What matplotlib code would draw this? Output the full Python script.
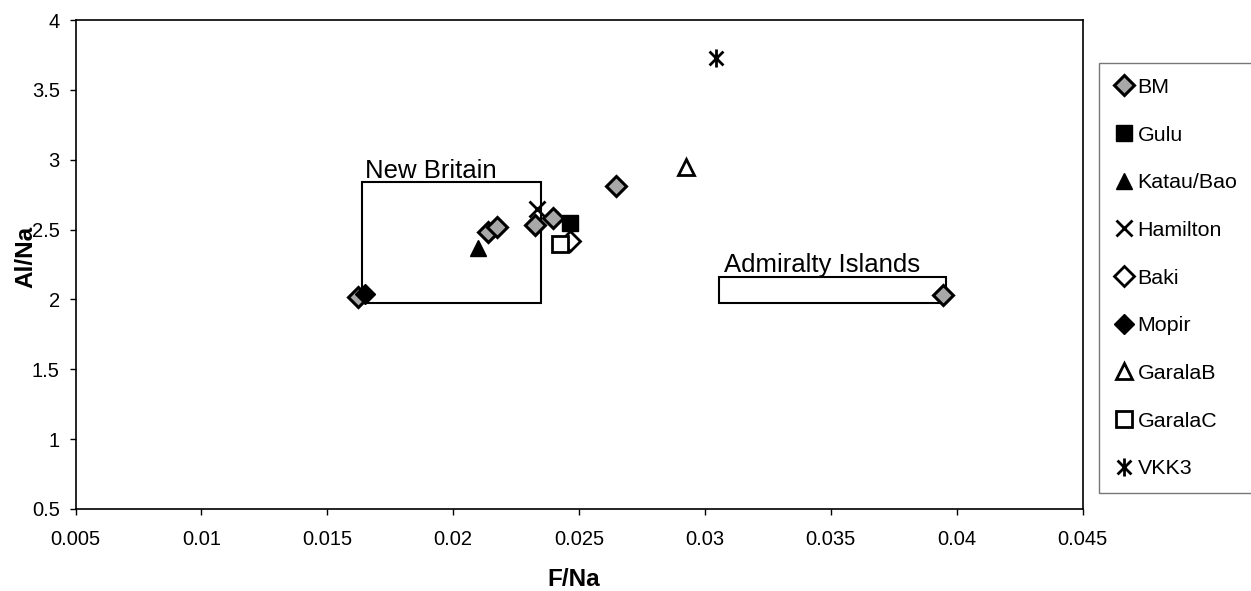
import matplotlib.pyplot as plt
from matplotlib.path import Path
from matplotlib.patches import Rectangle

plt.rcParams['font.family'] = ['Liberation Sans', 'DejaVu Sans']

# data
bm_x = [0.01622, 0.02139, 0.02173, 0.02325, 0.02398, 0.02647, 0.03946]
bm_y = [2.02, 2.48, 2.52, 2.53, 2.58, 2.81, 2.03]
gulu_x = [0.02463]
gulu_y = [2.55]
katau_x = [0.0210]
katau_y = [2.37]
hamilton_x = [0.02332]
hamilton_y = [2.65]
baki_x = [0.02464]
baki_y = [2.42]
mopir_x = [0.01649]
mopir_y = [2.04]
garalab_x = [0.02926]
garalab_y = [2.95]
garalac_x = [0.02424]
garalac_y = [2.40]
vkk3_x = [0.03045]
vkk3_y = [3.73]

# source regions (x0, x1, y0, y1)
new_britain = (0.01638, 0.02348, 1.976, 2.841)
admiralty = (0.03057, 0.03959, 1.973, 2.164)

# asterisk marker: X plus vertical stroke
star = Path([(-1, -1), (1, 1), (-1, 1), (1, -1), (0, -1.3), (0, 1.3)],
            [Path.MOVETO, Path.LINETO, Path.MOVETO, Path.LINETO, Path.MOVETO, Path.LINETO])

fig = plt.figure(figsize=(12.51, 5.91), dpi=100)
ax = fig.add_axes([75.5 / 1251, 1 - 509 / 591, 1007 / 1251, 489 / 591])

series = [
    (bm_x, bm_y, 'BM', dict(marker='D', mfc='#a8a8a8', mec='black', mew=2.2, ms=10)),
    (gulu_x, gulu_y, 'Gulu', dict(marker='s', mfc='black', mec='black', ms=11)),
    (katau_x, katau_y, 'Katau/Bao', dict(marker='^', mfc='black', mec='black', ms=12)),
    (hamilton_x, hamilton_y, 'Hamilton', dict(marker='x', mec='black', mew=2, ms=11)),
    (baki_x, baki_y, 'Baki', dict(marker='D', mfc='white', mec='black', mew=2, ms=10)),
    (mopir_x, mopir_y, 'Mopir', dict(marker='D', mfc='black', mec='black', ms=10)),
    (garalab_x, garalab_y, 'GaralaB', dict(marker='^', mfc='white', mec='black', mew=2, ms=11)),
    (garalac_x, garalac_y, 'GaralaC', dict(marker='s', mfc='white', mec='black', mew=2, ms=11)),
    (vkk3_x, vkk3_y, 'VKK3', dict(marker=star, mfc='none', mec='black', mew=2, ms=13)),
]
for xs, ys, name, st in series:
    ax.plot(xs, ys, linestyle='none', label=name, zorder=3, **st)

for (x0, x1, y0, y1) in [new_britain, admiralty]:
    ax.add_patch(Rectangle((x0, y0), x1 - x0, y1 - y0, fill=False,
                           edgecolor='black', linewidth=1.5, zorder=2))
ax.text(new_britain[0] + 0.0001, new_britain[3] + 0.03, 'New Britain', fontsize=18.5)
ax.text(admiralty[0] + 0.0002, admiralty[3] + 0.03, 'Admiralty Islands', fontsize=18.5)

ax.set_xlim(0.005, 0.045)
ax.set_ylim(0.5, 4)
ax.set_xticks([0.005, 0.01, 0.015, 0.02, 0.025, 0.03, 0.035, 0.04, 0.045])
ax.set_xticklabels(['0.005', '0.01', '0.015', '0.02', '0.025', '0.03', '0.035', '0.04', '0.045'])
ax.set_yticks([0.5, 1, 1.5, 2, 2.5, 3, 3.5, 4])
ax.set_yticklabels(['0.5', '1', '1.5', '2', '2.5', '3', '3.5', '4'])
ax.tick_params(labelsize=14.5, length=4.3, width=1, direction='out')
ax.tick_params(axis='x', pad=11)
ax.tick_params(axis='y', pad=7)
for s in ax.spines.values():
    s.set_linewidth(1.2)

ax.set_xlabel('F/Na', fontsize=17.5, fontweight='bold')
ax.xaxis.set_label_coords(0.495, -0.12)
ax.set_ylabel('Al/Na', fontsize=17.5, fontweight='bold')
ax.yaxis.set_label_coords(-0.038, 0.515)

leg = fig.legend(loc='upper left', bbox_to_anchor=(1099 / 1251, 1 - 63 / 591),
                 fontsize=15.4, frameon=True, fancybox=False, edgecolor='#555555',
                 handlelength=0.9, handletextpad=0.2, labelspacing=1.34,
                 borderpad=0.7, borderaxespad=0, numpoints=1)
leg.get_frame().set_linewidth(1.0)

fig.savefig('out.png', dpi=100)
